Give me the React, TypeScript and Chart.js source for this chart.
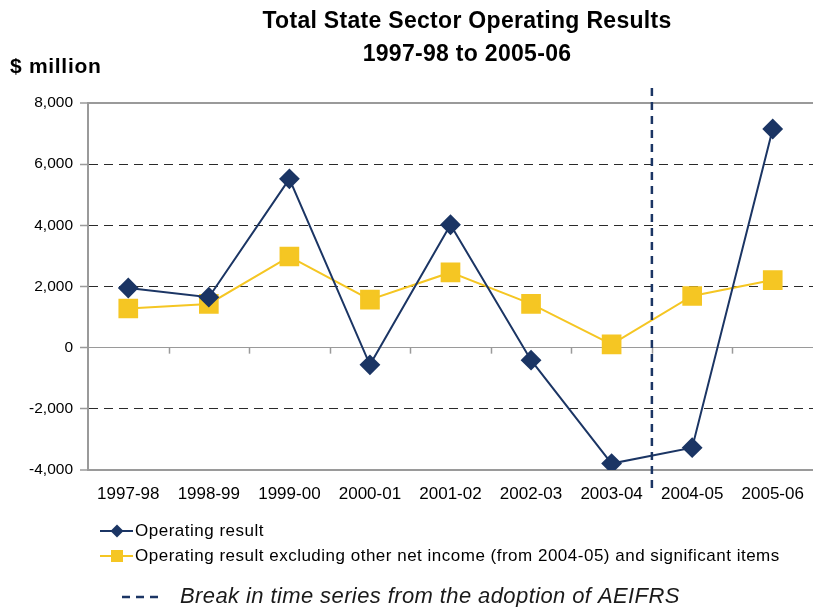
import React, { useEffect, useRef } from "react";
import { Chart, registerables } from "chart.js";

Chart.register(...registerables);

const categories = ["1997-98", "1998-99", "1999-00", "2000-01", "2001-02", "2002-03", "2003-04", "2004-05", "2005-06"];
const operatingResult = [1950, 1650, 5520, -560, 4020, -410, -3790, -3270, 7150];
const operatingExcl = [1280, 1430, 2980, 1570, 2460, 1430, 110, 1690, 2210];
const yMin = -4000;
const yMax = 8000;
const yStep = 2000;
const breakAfterIndex = 6; // break between 2003-04 and 2004-05

const titleLines = ["Total State Sector Operating Results", "1997-98 to 2005-06"];
const yUnit = "$ million";
const legendLabels = [
  "Operating result",
  "Operating result excluding other net income (from 2004-05) and significant items",
];
const breakLabel = "Break in time series from the adoption of AEIFRS";

const NAVY = "#1B3564";
const YELLOW = "#F5C623";
const SANS = "'Liberation Sans', Arial, sans-serif";

const isEdge = (v: number) => v === 0 || v === yMin || v === yMax;

const setSpacing = (ctx: any, s: string) => {
  try {
    ctx.letterSpacing = s;
  } catch (e) {}
};

const decorPlugin = {
  id: "decor",
  beforeDatasetsDraw(chart: any) {
    const { ctx, scales } = chart;
    const x = scales.x;
    const y0 = scales.y.getPixelForValue(0);
    ctx.save();
    ctx.strokeStyle = "#9a9a9a";
    ctx.lineWidth = 1.5;
    for (let i = 1; i < categories.length; i++) {
      const px = Math.round(x.getPixelForValue(i - 0.5)) + 0.5;
      ctx.beginPath();
      ctx.moveTo(px, y0);
      ctx.lineTo(px, y0 + 6);
      ctx.stroke();
    }
    ctx.restore();
  },
  afterDatasetsDraw(chart: any) {
    const { ctx, scales, chartArea } = chart;
    const bx = scales.x.getPixelForValue(breakAfterIndex + 0.5);
    ctx.save();
    ctx.strokeStyle = NAVY;
    ctx.lineWidth = 2.5;
    ctx.setLineDash([8, 6]);
    ctx.beginPath();
    ctx.moveTo(bx, chartArea.top - 15);
    ctx.lineTo(bx, chartArea.bottom + 22);
    ctx.stroke();
    ctx.restore();
  },
  afterDraw(chart: any) {
    const { ctx } = chart;
    ctx.save();
    // title
    ctx.fillStyle = "#000";
    ctx.textAlign = "center";
    ctx.textBaseline = "middle";
    ctx.font = `bold 23px ${SANS}`;
    setSpacing(ctx, "0.3px");
    ctx.fillText(titleLines[0], 467, 22);
    ctx.fillText(titleLines[1], 467, 55);
    ctx.textAlign = "left";
    ctx.font = `bold 21px ${SANS}`;
    setSpacing(ctx, "0.7px");
    ctx.fillText(yUnit, 10, 67);

    // legend
    ctx.font = `17px ${SANS}`;
    setSpacing(ctx, "0.5px");
    const rows = [
      { y: 531, color: NAVY, marker: "diamond", label: legendLabels[0] },
      { y: 556, color: YELLOW, marker: "square", label: legendLabels[1] },
    ];
    rows.forEach((r) => {
      ctx.strokeStyle = r.color;
      ctx.lineWidth = 2;
      ctx.beginPath();
      ctx.moveTo(100, r.y);
      ctx.lineTo(133, r.y);
      ctx.stroke();
      ctx.fillStyle = r.color;
      ctx.beginPath();
      if (r.marker === "diamond") {
        ctx.moveTo(117, r.y - 6.5);
        ctx.lineTo(123.5, r.y);
        ctx.lineTo(117, r.y + 6.5);
        ctx.lineTo(110.5, r.y);
        ctx.closePath();
      } else {
        ctx.rect(111, r.y - 6, 12, 12);
      }
      ctx.fill();
      ctx.fillStyle = "#000";
      ctx.fillText(r.label, 135, r.y);
    });

    // break legend
    ctx.strokeStyle = NAVY;
    ctx.lineWidth = 2.5;
    ctx.setLineDash([8, 6]);
    ctx.beginPath();
    ctx.moveTo(122, 597);
    ctx.lineTo(162, 597);
    ctx.stroke();
    ctx.setLineDash([]);
    ctx.fillStyle = "#1a1a1a";
    ctx.font = `italic 22px ${SANS}`;
    setSpacing(ctx, "0.4px");
    ctx.fillText(breakLabel, 180, 597);
    ctx.restore();
  },
};

export default function App() {
  const ref = useRef<HTMLCanvasElement | null>(null);
  useEffect(() => {
    if (!ref.current) return;
    const chart = new Chart(ref.current, {
      type: "line",
      data: {
        labels: categories,
        datasets: [
          {
            label: legendLabels[0],
            data: operatingResult,
            borderColor: NAVY,
            backgroundColor: NAVY,
            borderWidth: 2,
            pointStyle: "rectRot",
            pointRadius: 9,
            pointHoverRadius: 9,
            tension: 0,
          },
          {
            label: legendLabels[1],
            data: operatingExcl,
            borderColor: YELLOW,
            backgroundColor: YELLOW,
            borderWidth: 2,
            pointStyle: "rect",
            pointRadius: 12.5,
            pointHoverRadius: 12.5,
            tension: 0,
          },
        ],
      },
      options: {
        responsive: false,
        animation: false,
        layout: { autoPadding: false, padding: { top: 103, left: 0, right: 0, bottom: 0 } },
        plugins: {
          legend: { display: false },
          title: { display: false },
          tooltip: { enabled: false },
        },
        scales: {
          x: {
            offset: true,
            grid: { display: false, drawTicks: false },
            border: { display: false },
            ticks: {
              color: "#000",
              font: { family: SANS, size: 17 },
              padding: 14,
              maxRotation: 0,
              autoSkip: false,
            },
            afterFit: (s: any) => {
              s.height = 137;
              s.paddingLeft = 0;
              s.paddingRight = 0;
            },
          },
          y: {
            min: yMin,
            max: yMax,
            ticks: {
              stepSize: yStep,
              color: "#000",
              font: { family: SANS, size: 15.5 },
              padding: 7,
              callback: (v: any) => Number(v).toLocaleString("en-US"),
            },
            grid: {
              color: (c: any) => (c.tick && isEdge(c.tick.value) ? "#9a9a9a" : "#2a2a2a"),
              lineWidth: (c: any) => (c.tick && (c.tick.value === yMin || c.tick.value === yMax) ? 2 : 1),
              tickColor: "#9a9a9a",
              tickLength: 8,
              tickWidth: 1.5,
            },
            border: {
              display: true,
              color: "#9a9a9a",
              width: 2,
              dash: (c: any) => (c.tick && !isEdge(c.tick.value) ? [9, 6] : []),
            },
            afterFit: (s: any) => {
              s.width = 88;
              s.paddingTop = 0;
              s.paddingBottom = 0;
            },
          },
        },
      },
      plugins: [decorPlugin],
    });
    return () => chart.destroy();
  }, []);
  return (
    <div style={{ position: "fixed", left: 0, top: 0, width: 813, height: 607, background: "#fff" }}>
      <canvas ref={ref} width={813} height={607} style={{ width: 813, height: 607, display: "block" }} />
    </div>
  );
}
